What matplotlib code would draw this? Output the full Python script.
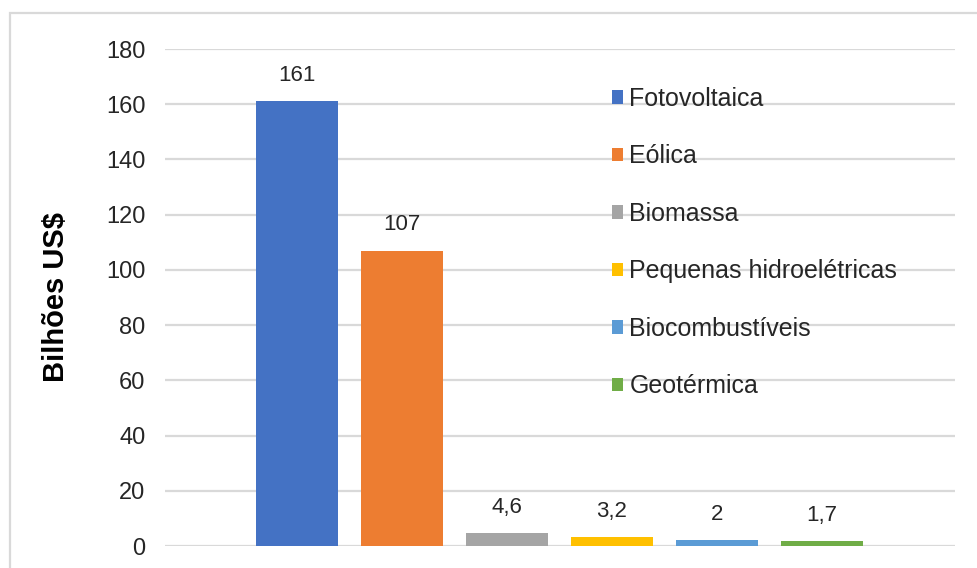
import matplotlib
matplotlib.use("Agg")
import matplotlib.pyplot as plt
from matplotlib.patches import Rectangle

plt.rcParams['font.family'] = ['Liberation Sans', 'DejaVu Sans']

fontes = ["Fotovoltaica", "Eólica", "Biomassa", "Pequenas hidroelétricas",
          "Biocombustíveis", "Geotérmica"]
valores = [161, 107, 4.6, 3.2, 2, 1.7]
rotulos = ["161", "107", "4,6", "3,2", "2", "1,7"]
cores = ["#4472C4", "#ED7D31", "#A5A5A5", "#FFC000", "#5B9BD5", "#70AD47"]
yticks = [0, 20, 40, 60, 80, 100, 120, 140, 160, 180]

fig = plt.figure(figsize=(9.78, 5.68), dpi=100)
ax = fig.add_axes([0.1687, 0.0387, 0.9765 - 0.1687, 0.9137 - 0.0387])

# chart frame
fig.patches.append(Rectangle((10 / 978, -0.1), 1.2, 0.1 + (568 - 13) / 568,
                             transform=fig.transFigure, fill=False,
                             edgecolor="#D9D9D9", linewidth=1.6, zorder=0))

for i, (nome, v, c) in enumerate(zip(fontes, valores, cores)):
    ax.bar(i, v, width=0.78, color=c, label=nome, zorder=3)
    ax.annotate(rotulos[i], (i, v), xytext=(0, 11), textcoords="offset points",
                ha="center", va="bottom", fontsize=16, color="#262626")

ax.set_xlim(-1.257, 6.267)
ax.set_ylim(0, 180)
ax.set_yticks(yticks)
ax.set_yticklabels([str(t) for t in yticks], fontsize=17, color="#262626")
ax.set_xticks([])
ax.tick_params(axis="y", length=0, pad=14)
ax.grid(axis="y", color="#D9D9D9", linewidth=1.6, zorder=0)
for s in ax.spines.values():
    s.set_visible(False)

ax.set_ylabel("Bilhões US$", fontsize=21, fontweight="bold", color="#000000")
ax.yaxis.set_label_coords(-0.12, 0.5)

leg = ax.legend(loc="upper left", bbox_to_anchor=(0.553, 0.944), frameon=False,
                fontsize=18, handlelength=0.45, handleheight=0.45,
                handletextpad=0.25, labelspacing=1.34, borderaxespad=0)
for t in leg.get_texts():
    t.set_color("#262626")

fig.savefig("out.png", dpi=100)
